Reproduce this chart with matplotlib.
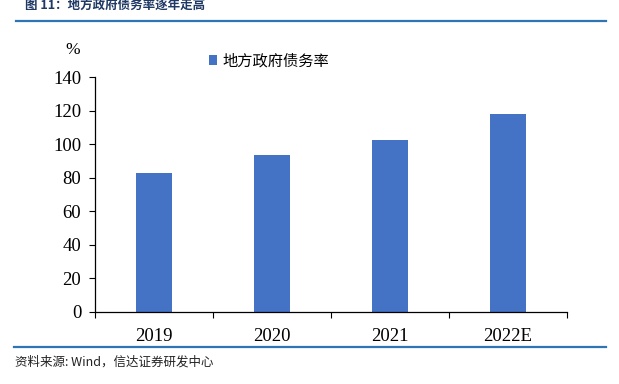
import matplotlib
matplotlib.use("Agg")
import matplotlib.pyplot as plt
from matplotlib.lines import Line2D
import numpy as np

years = ["2019", "2020", "2021", "2022E"]
debt_ratio = [82.7, 93.4, 102.7, 117.9]

bar_color = "#4472C4"
navy = "#1F3864"
rule_color = "#2E75B6"

plt.rcParams["font.family"] = ["Liberation Serif", "Noto Sans CJK SC"]

fig = plt.figure(figsize=(6.19, 3.84), dpi=100)
ax = fig.add_axes([0.1535, 0.188, 0.7625, 0.611])

x = np.arange(len(years))
ax.bar(x, debt_ratio, width=0.31, color=bar_color, label="地方政府债务率", zorder=2)

ax.set_xlim(-0.5, len(years) - 0.5)
ax.set_ylim(0, 140)
ax.set_yticks(range(0, 141, 20))
ax.set_xticks(np.arange(-0.5, len(years), 1.0))
ax.set_xticklabels([])
ax.set_xticks(x, minor=True)
ax.set_xticklabels(years, minor=True)
ax.tick_params(axis="x", which="minor", length=0, pad=12, labelsize=13.5)
ax.tick_params(axis="x", which="major", direction="out", length=4, width=0.8)
ax.tick_params(axis="y", direction="out", length=4, width=0.8, labelsize=13.5, pad=6)
for side in ("top", "right"):
    ax.spines[side].set_visible(False)
ax.spines["left"].set_linewidth(0.9)
ax.spines["bottom"].set_linewidth(0.9)

# % unit label above y axis
fig.text(73 / 619, 1 - 50 / 384, "%", fontsize=12.5, ha="center", va="center",
         family="Liberation Serif")

# legend
fig.legend(loc="center left", bbox_to_anchor=(209 / 619, 1 - 61 / 384), frameon=False,
           borderpad=0, borderaxespad=0,
           handlelength=0.55, handleheight=0.55, handletextpad=0.35,
           prop={"family": "Noto Sans CJK SC", "size": 11})

# title and rules
fig.text(25 / 619, 1 - 5 / 384, "图 11：地方政府债务率逐年走高", fontsize=9,
         fontweight="bold", color=navy, ha="left", va="center",
         family=["Noto Sans CJK SC", "DejaVu Sans"])
fig.add_artist(Line2D([16 / 619, 606 / 619], [1 - 21 / 384] * 2, color=rule_color,
                      linewidth=1.6, transform=fig.transFigure))
fig.add_artist(Line2D([14 / 619, 606 / 619], [1 - 347 / 384] * 2, color=rule_color,
                      linewidth=1.6, transform=fig.transFigure))
fig.text(15 / 619, 1 - 362 / 384, "资料来源: Wind，信达证券研发中心", fontsize=9,
         style="italic", color="#222222", ha="left", va="center",
         family=["Noto Sans CJK SC", "DejaVu Sans"])

fig.savefig("out.png", dpi=100)
